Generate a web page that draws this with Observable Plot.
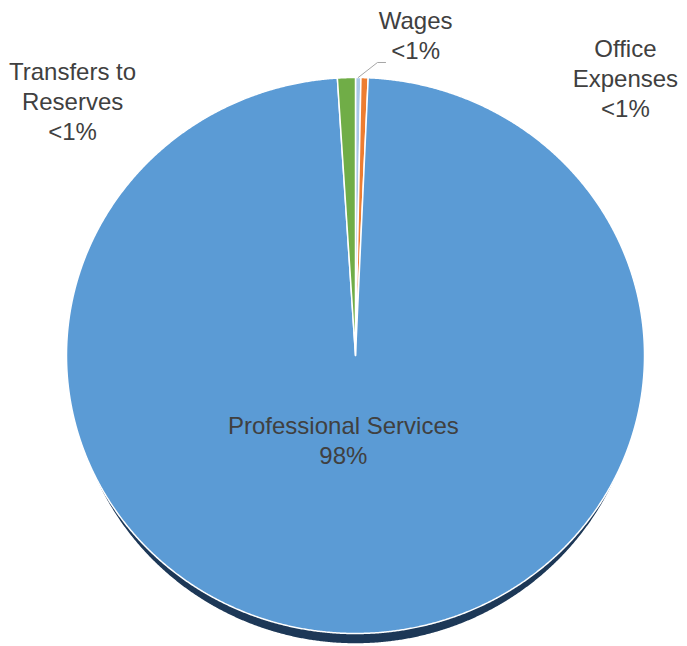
<!DOCTYPE html>
<html><head><meta charset="utf-8">
<script src="https://cdn.jsdelivr.net/npm/d3@7"></script>
<script src="https://cdn.jsdelivr.net/npm/@observablehq/plot@0.6"></script>
<style>
body{margin:0;background:#fff}
#chart svg{display:block}
</style>
</head><body><div id="chart"></div>
<script>
// ---- data ----
const categories = ["Wages", "Office Expenses", "Professional Services", "Transfers to Reserves"];
const values = [0.3, 0.4, 98.3, 1.0];
const valueLabels = ["<1%", "<1%", "98%", "<1%"];
const categoryLabelText = ["Wages", "Office\nExpenses", "Professional Services", "Transfers to\nReserves"];

// ---- styles ----
const colors = ["#a9c8e8", "#ed7d31", "#5b9bd5", "#70ad47"];
const textColor = "#404040";

// label anchors in pie units (radius = 1)
const labelLayout = {
  "Wages": [0.208, 1.155],
  "Office Expenses": [0.934, 1.0],
  "Professional Services": [-0.042, -0.302],
  "Transfers to Reserves": [-0.979, 0.919]
};

const data = categories.map((c, i) => ({category: c, value: values[i], label: categoryLabelText[i] + "\n" + valueLabels[i]}));
const arcs = d3.pie().sort(null).value(d => d.value)(data);

const step = Math.PI / 720;
const slicePts = [];
for (const a of arcs) {
  slicePts.push({category: a.data.category, x: 0, y: 0});
  const n = Math.max(2, Math.ceil((a.endAngle - a.startAngle) / step));
  for (let k = 0; k <= n; k++) {
    const t = a.startAngle + (a.endAngle - a.startAngle) * k / n;
    slicePts.push({category: a.data.category, x: Math.sin(t), y: Math.cos(t)});
  }
}
// side/shadow of the tilted pie
const rim = d3.range(0, 1441).map(k => {
  const t = k * step;
  return {x: 0.98 * Math.sin(t), y: Math.cos(t)};
});

const labels = data.map(d => ({label: d.label, x: labelLayout[d.category][0], y: labelLayout[d.category][1]}));

// leader line for Wages
const w = arcs[0];
const wm = (w.startAngle + w.endAngle) / 2;
const leader = [
  {x: Math.sin(wm), y: Math.cos(wm)},
  {x: 0.076, y: 1.054},
  {x: 0.104, y: 1.054}
];

const chart = Plot.plot({
  width: 687,
  height: 646,
  margin: 0,
  style: {background: "#fff", fontFamily: "'Liberation Sans', Arial, sans-serif"},
  x: {domain: [-1, 1], range: [66, 644], axis: null},
  y: {domain: [-1, 1], range: [633, 77], axis: null},
  color: {domain: categories, range: colors},
  marks: [
    Plot.line(rim, {x: "x", y: "y", fill: "#1d3857", stroke: "#1d3857", dy: 9, curve: "linear-closed"}),
    Plot.line(slicePts, {x: "x", y: "y", z: "category", fill: "category", stroke: "#fff", strokeWidth: 1.5, curve: "linear-closed", strokeLinejoin: "round"}),
    Plot.line(leader, {x: "x", y: "y", stroke: "#a6a6a6", strokeWidth: 1}),
    Plot.text(labels, {x: "x", y: "y", text: "label", fill: textColor, fontSize: 24, lineHeight: 1.25, textAnchor: "middle", lineAnchor: "middle"})
  ]
});
document.getElementById("chart").appendChild(chart);
</script>
</body></html>
